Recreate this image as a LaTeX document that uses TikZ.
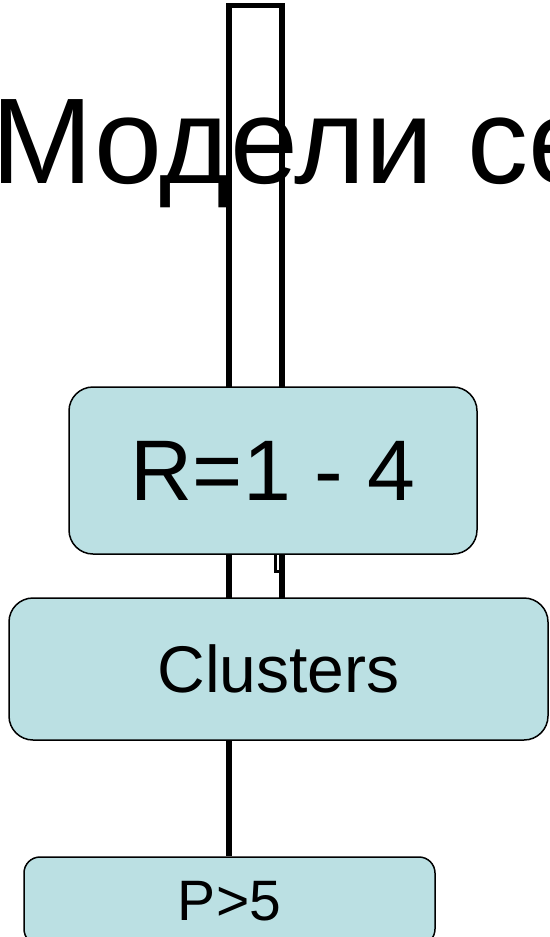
\documentclass[tikz,border=0pt]{standalone}
\usepackage{fontspec}
\setmainfont{Liberation Sans}
\definecolor{boxblue}{RGB}{187,224,227}

\begin{document}
\begin{tikzpicture}
	[x=1pt, y=1pt, box/.style={rectangle, rounded corners=24pt, draw=black, line width=1.5pt, fill=boxblue, align=center, inner sep=0pt}, link/.style={line width=5.5pt}]
	\useasboundingbox (0,0) rectangle (549,-937);
	\clip (0,0) rectangle (549,-937);
	% title, cut off at the right
	\node[anchor=base west, inner sep=0pt] (title) at (-9,-183) {\fontsize{122}{130}\selectfont Модели се};
	% tall bar behind the boxes
	\node[draw, line width=5.5pt, outer sep=0pt, minimum width=53pt, minimum height=615pt, anchor=north west] (bar) at (229,-5.5) {};
	\draw[line width=3pt] (275.5,-555) -- (275.5,-571) -- (bar.east |- 0,-571);
	% boxes
	\node[box, minimum width=408pt, minimum height=167pt] (b1) at (273,-470.5) {\fontsize{86}{92}\selectfont R=1 - 4};
	\node[box, minimum width=539pt, minimum height=142pt] (b2) at (278.5,-669) {\fontsize{66}{72}\selectfont Clusters};
	\node[box, rounded corners=16pt, minimum width=411pt, minimum height=88pt] (b3) at (229.5,-901) {\fontsize{57}{60}\selectfont P>5};
	\draw[link] (b2.south -| bar.west) -- (b3.north -| bar.west);
\end{tikzpicture}
\end{document}
